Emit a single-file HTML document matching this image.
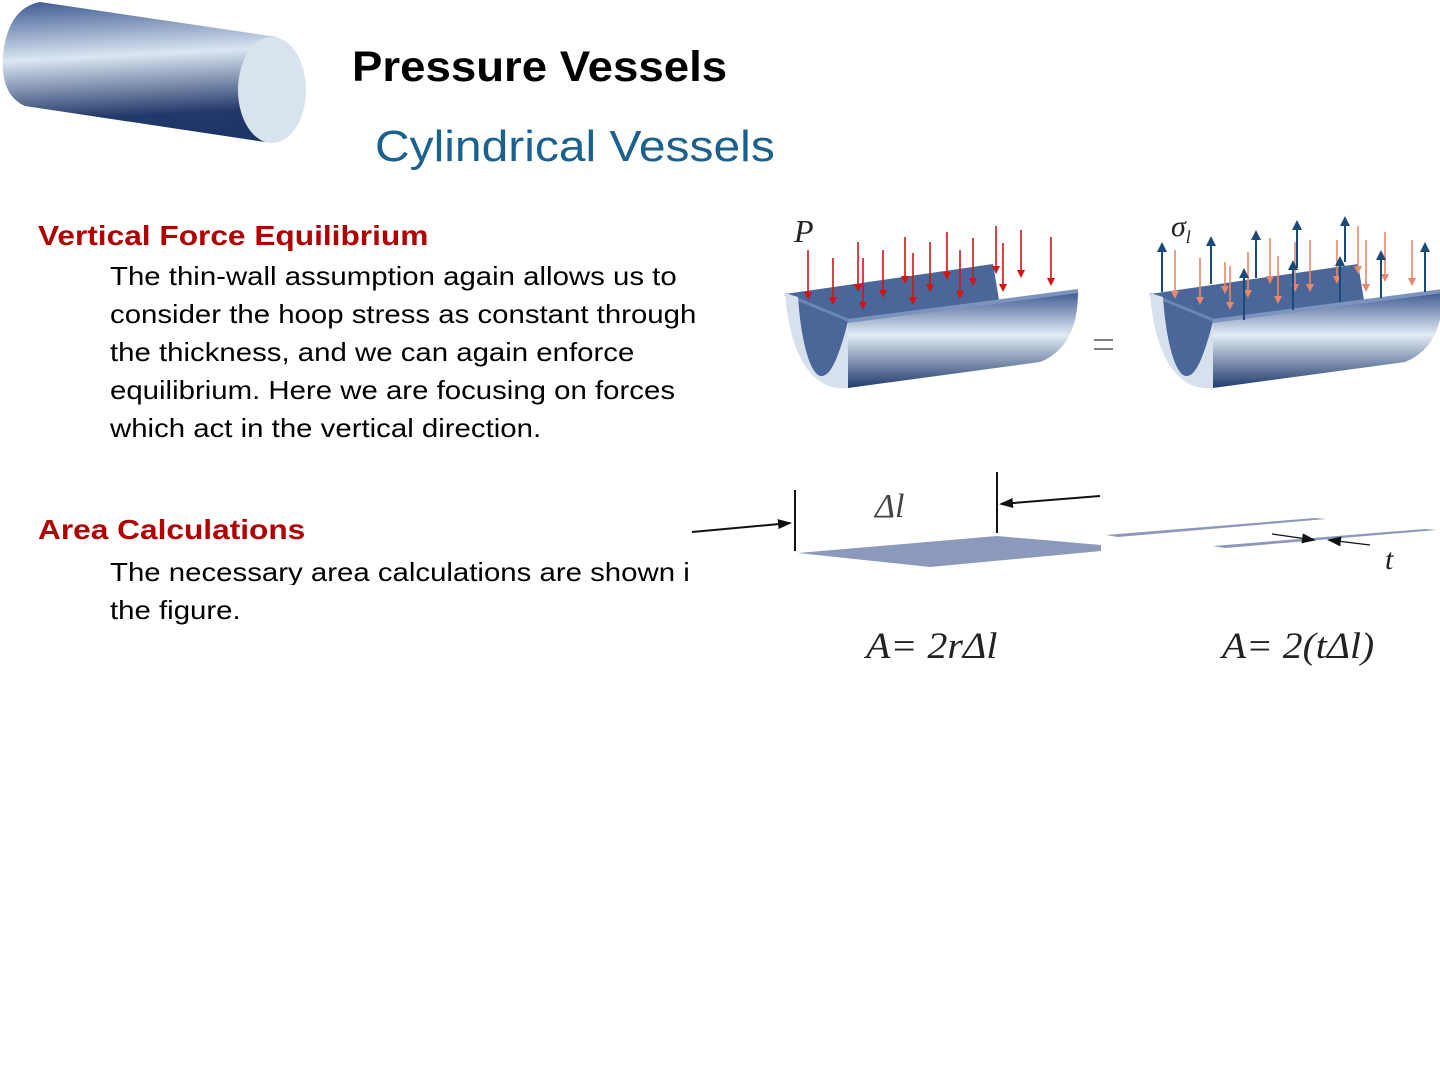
<!DOCTYPE html>
<html><head><meta charset="utf-8"><style>
body{margin:0;width:1440px;height:1080px;background:#fff;position:relative;overflow:hidden;font-family:"Liberation Sans",sans-serif}
.t{position:absolute;white-space:nowrap;line-height:1;transform-origin:0 0}
.b{font-size:26px;color:#000;left:110px;transform:scaleX(1.13)}
.h{font-size:28px;font-weight:bold;color:#b00000;left:38px;transform:scaleX(1.13)}
.m{font-family:"Liberation Serif",serif;font-style:italic;color:#222}
</style></head><body>
<svg width="1440" height="1080" style="position:absolute;left:0;top:0">
<defs>
<linearGradient id="cg" x1="0" y1="0" x2="0.1" y2="1">
<stop offset="0" stop-color="#3d5a92"/><stop offset="0.42" stop-color="#dbe6f2"/><stop offset="0.85" stop-color="#23396a"/><stop offset="1" stop-color="#1c3466"/></linearGradient>
<linearGradient id="tg" x1="0" y1="0" x2="0" y2="1">
<stop offset="0" stop-color="#3f5a90"/><stop offset="0.45" stop-color="#e3ebf4"/><stop offset="1" stop-color="#1f3a6e"/></linearGradient>
<g id="trough">
<path d="M0,2 L208,-28 L214,8 L63,30 Z" fill="#4b6699"/>
<path d="M13,5 L63,30 C53,68 45,86 35,84 C23,80 15,40 13,5 Z" fill="#4b6699"/>
<path d="M0,2 L63,28" stroke="#6d86b3" stroke-width="3"/>
<path d="M63,30 L293,0 Q293,55 255,70 L63,96 Z" fill="url(#tg)"/>
<path d="M63,29 L293,-1" stroke="#7b93bd" stroke-width="4"/>
<path d="M0,1 C5,68 30,100 63,96 L63,30 C53,68 45,86 35,84 C23,80 15,40 13,5 Z" fill="#d6e1ed"/>
</g>
<marker id="ar" markerWidth="8" markerHeight="8" refX="6" refY="4" orient="auto" markerUnits="userSpaceOnUse" viewBox="0 0 8 8"><path d="M0,0 L8,4 L0,8 Z" fill="#d01515"/></marker>
<marker id="ab" markerWidth="10" markerHeight="12" refX="8" refY="5" orient="auto" markerUnits="userSpaceOnUse" viewBox="0 0 10 10"><path d="M0,0 L10,5 L0,10 Z" fill="#1b4a78"/></marker>
<marker id="as" markerWidth="8" markerHeight="8" refX="6" refY="4" orient="auto" markerUnits="userSpaceOnUse" viewBox="0 0 8 8"><path d="M0,0 L8,4 L0,8 Z" fill="#e8876a"/></marker>
<marker id="ak" markerWidth="14" markerHeight="10" refX="12" refY="5" orient="auto" markerUnits="userSpaceOnUse" viewBox="0 0 14 10"><path d="M0,0 L14,5 L0,10 Z" fill="#111"/></marker>
</defs>
<path d="M40,2 L277,37 L265,142 L25,106 Q0,95 3,55 Q8,8 40,2 Z" fill="url(#cg)"/>
<ellipse cx="272" cy="90" rx="34" ry="53" fill="#d8e3ee"/>
<use href="#trough" x="785" y="292"/>
<use href="#trough" x="1150" y="292"/>
<g stroke="#d01515" stroke-width="1.6" marker-end="url(#ar)">
<line x1="808" y1="250" x2="808" y2="298"/><line x1="833" y1="258" x2="833" y2="303"/>
<line x1="858" y1="242" x2="858" y2="290"/><line x1="863" y1="258" x2="863" y2="308"/>
<line x1="883" y1="250" x2="883" y2="296"/><line x1="905" y1="237" x2="905" y2="282"/>
<line x1="913" y1="253" x2="913" y2="303"/><line x1="930" y1="242" x2="930" y2="290"/>
<line x1="947" y1="232" x2="947" y2="278"/><line x1="960" y1="250" x2="960" y2="297"/>
<line x1="973" y1="238" x2="973" y2="284"/><line x1="996" y1="226" x2="996" y2="272"/>
<line x1="1003" y1="243" x2="1003" y2="290"/><line x1="1021" y1="230" x2="1021" y2="276"/>
<line x1="1051" y1="237" x2="1051" y2="284"/>
</g>
<g stroke="#e8876a" stroke-width="1.6" marker-end="url(#as)">
<line x1="1175" y1="250" x2="1175" y2="297"/><line x1="1200" y1="258" x2="1200" y2="303"/>
<line x1="1225" y1="262" x2="1225" y2="292"/><line x1="1230" y1="266" x2="1230" y2="308"/>
<line x1="1248" y1="252" x2="1248" y2="296"/><line x1="1270" y1="238" x2="1270" y2="282"/>
<line x1="1278" y1="256" x2="1278" y2="302"/><line x1="1295" y1="242" x2="1295" y2="290"/>
<line x1="1310" y1="240" x2="1310" y2="290"/><line x1="1337" y1="240" x2="1337" y2="282"/>
<line x1="1358" y1="226" x2="1358" y2="272"/><line x1="1366" y1="240" x2="1366" y2="290"/>
<line x1="1385" y1="232" x2="1385" y2="280"/><line x1="1412" y1="240" x2="1412" y2="284"/>
</g>
<g stroke="#1b4a78" stroke-width="2" marker-end="url(#ab)">
<line x1="1162" y1="292" x2="1162" y2="244"/><line x1="1211" y1="284" x2="1211" y2="238"/>
<line x1="1256" y1="278" x2="1256" y2="232"/><line x1="1297" y1="268" x2="1297" y2="222"/>
<line x1="1345" y1="262" x2="1345" y2="218"/><line x1="1244" y1="320" x2="1244" y2="270"/>
<line x1="1293" y1="310" x2="1293" y2="262"/><line x1="1340" y1="302" x2="1340" y2="258"/>
<line x1="1381" y1="298" x2="1381" y2="252"/><line x1="1425" y1="292" x2="1425" y2="244"/>
</g>
<line x1="1094" y1="340" x2="1113" y2="340" stroke="#555" stroke-width="1.5"/>
<line x1="1094" y1="349" x2="1113" y2="349" stroke="#555" stroke-width="1.5"/>
<polygon points="798,553 997,536 1101,545 1101,551 930,567" fill="#8c99bd"/>
<line x1="795" y1="490" x2="795" y2="551" stroke="#111" stroke-width="2"/>
<line x1="997" y1="472" x2="997" y2="533" stroke="#111" stroke-width="2"/>
<line x1="692" y1="532" x2="790" y2="523" stroke="#111" stroke-width="2" marker-end="url(#ak)"/>
<line x1="1100" y1="496" x2="1001" y2="504" stroke="#111" stroke-width="2" marker-end="url(#ak)"/>
<polygon points="1106,535 1315,518 1326,519 1118,537" fill="#8c99bd"/>
<polygon points="1213,546 1425,529 1437,530 1225,548" fill="#8c99bd"/>
<g stroke="#111" stroke-width="1.2">
<line x1="1272" y1="534" x2="1314" y2="540" marker-end="url(#ak)"/>
<line x1="1370" y1="545" x2="1329" y2="540" marker-end="url(#ak)"/>
</g>
</svg>
<div class="t" style="left:352px;top:46px;font-size:43px;font-weight:bold;transform:scaleX(1.06)">Pressure Vessels</div>
<div class="t" style="left:375px;top:125px;font-size:44px;color:#1a6190;transform:scaleX(1.09)">Cylindrical Vessels</div>
<div class="t h" style="top:222px">Vertical Force Equilibrium</div>
<div class="t b" style="top:263px">The thin-wall assumption again allows us to</div>
<div class="t b" style="top:301px">consider the hoop stress as constant through</div>
<div class="t b" style="top:339px">the thickness, and we can again enforce</div>
<div class="t b" style="top:377px">equilibrium. Here we are focusing on forces</div>
<div class="t b" style="top:415px">which act in the vertical direction.</div>
<div class="t h" style="top:516px">Area Calculations</div>
<div class="t b" style="top:559px;width:514px;overflow:hidden">The necessary area calculations are shown in</div>
<div class="t b" style="top:597px">the figure.</div>
<div class="t m" style="left:794px;top:215px;font-size:32px">P</div>
<div class="t m" style="left:1171px;top:212px;font-size:30px">σ<sub style="font-size:18px">l</sub></div>
<div class="t m" style="left:875px;top:490px;font-size:34px;color:#444">Δl</div>
<div class="t m" style="left:1385px;top:545px;font-size:30px">t</div>
<div class="t m" style="left:866px;top:628px;font-size:37px;transform:scaleX(1.08)">A= 2rΔl</div>
<div class="t m" style="left:1222px;top:628px;font-size:37px;transform:scaleX(1.07)">A= 2(tΔl)</div>
</body></html>
